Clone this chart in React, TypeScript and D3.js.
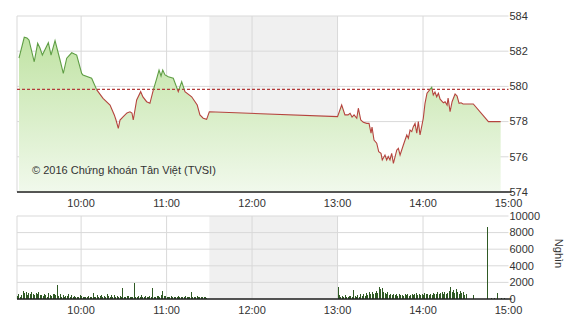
import React from "react";
import * as d3 from "d3";

// ---------- DATA ----------
// price: minutes after 09:00, index value
const priceTimes = [16.4, 20.1, 22.0, 23.4, 27.1, 29.5, 31.1, 32.8, 37.0, 38.9, 41.7, 45.2, 47.5, 49.9, 53.4, 56.9, 60.4, 61.3, 67.4, 71.0, 75.4, 80.3, 83.3, 84.5, 86.1, 87.3, 89.6, 92.2, 94.3, 95.7, 96.6, 99.0, 101.8, 103.4, 106.0, 108.3, 110.7, 113.1, 114.7, 116.1, 117.3, 118.9, 121.2, 124.7, 128.2, 130.6, 132.9, 137.6, 141.5, 143.4, 145.7, 148.1, 150,
  240, 242.9, 245.2, 247.4, 248.8, 250.2, 251.6, 253.5, 254.6, 256.3, 258.1, 260.5, 262.1, 263.5, 264.2, 265.6, 267.5, 268.9, 270.5, 271.4, 273.3, 274.5, 275.6, 276.8, 278.0, 279.2, 281.6, 282.7, 283.9, 286.2, 288.6, 289.7, 290.9, 292.1, 293.2, 294.4, 295.6, 296.7, 297.9, 300.2, 301.4, 302.8, 306.1, 307.2, 308.4, 309.6, 310.8, 312.0, 314.3, 315.5, 316.9, 317.6, 319.0, 320.4, 322.5, 323.9, 325.3, 326.7, 328.1, 335.3, 345.9, 354.5];
const priceValues = [581.6, 582.79, 582.75, 582.64, 581.4, 582.45, 582.18, 581.78, 582.48, 581.78, 582.6, 581.5, 580.74, 581.6, 581.91, 581.78, 580.74, 580.65, 580.46, 579.8, 579.32, 578.94, 578.38, 578.09, 577.62, 578.09, 578.28, 578.49, 578.56, 578.49, 578.09, 579.23, 579.7, 579.4, 579.13, 579.04, 579.8, 580.46, 580.93, 580.59, 580.93, 580.65, 580.55, 580.46, 579.7, 580.27, 579.7, 579.41, 578.94, 578.38, 578.19, 578.13, 578.56,
  578.28, 578.94, 578.38, 578.38, 578.47, 578.26, 578.38, 578.19, 578.76, 578.09, 577.96, 577.9, 577.9, 577.34, 577.69, 576.95, 576.77, 576.29, 576.2, 575.82, 576.1, 575.82, 576.01, 575.82, 576.2, 575.63, 576.39, 576.48, 576.1, 576.67, 577.24, 577.05, 577.52, 577.43, 577.71, 577.9, 577.34, 578.0, 577.24, 578.19, 579.04, 579.61, 579.95, 579.51, 579.68, 579.41, 579.61, 579.27, 579.07, 579.13, 578.94, 579.34, 578.56, 579.13, 579.57, 579.45, 579.04, 579.07, 579.0, 579.0, 578.0, 578.0];
const referenceValue = 579.83;

// volume (thousand shares), one bar per minute
const morningStart = 15; // 09:15
const morningVolume = [350, 600, 250, 500, 1000, 700, 800, 500, 750, 600, 800, 650, 500, 700, 600, 800, 450,
  500, 350, 600, 450, 300, 700, 500, 400, 650, 550, 450, 1700,
  400, 600, 300, 500, 250, 400, 350, 550, 300, 450, 250, 350,
  200, 300, 250, 450, 350, 250, 200, 300, 250, 350, 250, 300, 700,
  250, 300, 450, 200, 350, 500, 250, 400, 300, 550, 350, 250, 500, 300, 450, 200, 350, 300, 400, 250, 1300,
  300, 250, 400, 350, 300, 300, 250, 1900,
  300, 250, 350, 200, 450, 300, 250, 350, 300, 200, 400, 250, 1350,
  300, 250, 400, 350, 250, 450, 950, 400,
  350, 250, 300, 200, 350, 250, 300, 200, 250, 350, 200, 300, 250, 200, 350, 250, 300, 250, 800,
  250, 300, 200, 350, 250, 300, 200, 250, 300, 200, 150];
const afternoonStart = 240; // 13:00
const afternoonVolume = [1450, 500, 300, 350, 250, 450, 300, 250, 350, 400, 300, 1100,
  350, 300, 450, 250, 550, 350, 600, 400, 700,
  450, 800, 550, 900, 600, 700, 1000, 750, 1400, 1200, 1300, 800,
  700, 600, 900, 500, 650, 450, 600, 500, 550, 400, 650, 450, 500, 350, 600, 450, 550, 400,
  500, 650, 450, 600, 700, 500, 550, 450, 600, 500, 750, 550, 650, 500, 600, 450, 700, 550, 650, 800,
  600, 700, 850, 600, 900, 650, 700, 1000, 1500,
  800, 1100, 700, 1200, 900, 600, 1000, 700, 850, 500, 650];
const lateTimes = [335, 345, 348, 350, 352, 355, 357];
const lateVolume = [450, 8700, 80, 100, 700, 120, 90];

const priceTicks = [574, 576, 578, 580, 582, 584];
const volumeTicks = [0, 2000, 4000, 6000, 8000, 10000];
const hourTicks = [60, 120, 180, 240, 300, 360];
const lunchBreak = [150, 240];
const copyright = "© 2016 Chứng khoán Tân Việt (TVSI)";
const volumeUnit = "Nghìn";

// ---------- LAYOUT ----------
const W = 570, H = 320;
const left = 17, right = 508.5;
const pTop = 16, pBottom = 192;
const vTop = 216, vBottom = 299;
const font = "'Liberation Sans', Arial, sans-serif";

export default function App() {
  const x = d3.scaleLinear().domain([15, 360]).range([left, right]);
  const y = d3.scaleLinear().domain([574, 584]).range([pBottom, pTop]);
  const yv = d3.scaleLinear().domain([0, 10000]).range([vBottom, vTop]);

  const pts: [number, number][] = priceTimes.map((t, i) => [t, priceValues[i]]);
  const line = d3.line<[number, number]>().x(d => x(d[0])).y(d => y(d[1]))(pts) || "";
  const area = d3.area<[number, number]>().x(d => x(d[0])).y0(pBottom).y1(d => y(d[1]))(pts) || "";
  const refY = y(referenceValue);

  const bars: { t: number; v: number }[] = [];
  morningVolume.forEach((v, i) => bars.push({ t: morningStart + i, v }));
  afternoonVolume.forEach((v, i) => bars.push({ t: afternoonStart + i, v }));
  lateTimes.forEach((t, i) => bars.push({ t, v: lateVolume[i] }));

  const fmt = (m: number) => `${Math.floor(9 + m / 60)}:${String(m % 60).padStart(2, "0")}`;
  const grid = "#d9d9d9";
  const txt = "#333";

  return (
    <svg width={W} height={H} style={{ position: "absolute", left: 0, top: 0, background: "#fff" }} fontFamily={font}>
      <defs>
        <linearGradient id="gfill" x1="0" y1={pTop} x2="0" y2={pBottom} gradientUnits="userSpaceOnUse">
          <stop offset="0" stopColor="#bae09a" />
          <stop offset="1" stopColor="#f1f9ec" />
        </linearGradient>
        <clipPath id="above"><rect x={0} y={0} width={W} height={refY} /></clipPath>
        <clipPath id="below"><rect x={0} y={refY} width={W} height={H} /></clipPath>
      </defs>

      {/* ---- price panel ---- */}
      <rect x={x(lunchBreak[0])} y={pTop} width={x(lunchBreak[1]) - x(lunchBreak[0])} height={pBottom - pTop} fill="#f0f0f0" />
      {priceTicks.map(t => (
        <line key={t} x1={left} x2={right} y1={y(t)} y2={y(t)} stroke={grid} strokeWidth={1} />
      ))}
      {hourTicks.slice(0, 5).map(t => (
        <line key={t} x1={x(t)} x2={x(t)} y1={pTop} y2={pBottom} stroke={grid} strokeWidth={1} />
      ))}
      <line x1={left} x2={left} y1={pTop} y2={pBottom} stroke={grid} />
      <path d={area} fill="url(#gfill)" />
      <line x1={left} x2={right} y1={refY} y2={refY} stroke="#b33a3a" strokeWidth={1.2} strokeDasharray="3,2" />
      <path d={line} fill="none" stroke="#5f9e45" strokeWidth={1.1} clipPath="url(#above)" />
      <path d={line} fill="none" stroke="#b5443e" strokeWidth={1.1} clipPath="url(#below)" />
      <line x1={left} x2={right + 3} y1={pBottom} y2={pBottom} stroke="#222" strokeWidth={1.5} />
      {priceTicks.map(t => (
        <text key={t} x={right + 1} y={y(t)} dy="0.35em" fontSize={11} fill={txt}>{t}</text>
      ))}
      <text x={32} y={174} fontSize={11} fill={txt}>{copyright}</text>
      {hourTicks.map(t => (
        <text key={t} x={x(t)} y={207} textAnchor="middle" fontSize={11} fill={txt}>{fmt(t)}</text>
      ))}

      {/* ---- volume panel ---- */}
      <rect x={x(lunchBreak[0])} y={vTop} width={x(lunchBreak[1]) - x(lunchBreak[0])} height={vBottom - vTop} fill="#f0f0f0" />
      {volumeTicks.map(t => (
        <line key={t} x1={left} x2={right} y1={yv(t)} y2={yv(t)} stroke={grid} strokeWidth={1} />
      ))}
      {hourTicks.slice(0, 5).map(t => (
        <line key={t} x1={x(t)} x2={x(t)} y1={vTop} y2={vBottom} stroke={grid} strokeWidth={1} />
      ))}
      <line x1={left} x2={left} y1={vTop} y2={vBottom} stroke={grid} />
      <g shapeRendering="crispEdges">
        {bars.map((b, i) => (
          <rect key={i} x={Math.round(x(b.t))} y={yv(b.v)} width={1} height={vBottom - yv(b.v)} fill="#2f5a24" />
        ))}
      </g>
      <line x1={left} x2={right + 3} y1={vBottom} y2={vBottom} stroke="#222" strokeWidth={1.5} />
      {volumeTicks.map(t => (
        <text key={t} x={right + 1} y={yv(t)} dy="0.35em" fontSize={11} fill={txt}>{t}</text>
      ))}
      {hourTicks.map(t => (
        <text key={t} x={x(t)} y={314} textAnchor="middle" fontSize={11} fill={txt}>{fmt(t)}</text>
      ))}
      <text x={0} y={0} transform={`translate(555,${(vTop + vBottom) / 2 - 4}) rotate(90)`} textAnchor="middle" fontSize={11} fill={txt}>{volumeUnit}</text>
    </svg>
  );
}
